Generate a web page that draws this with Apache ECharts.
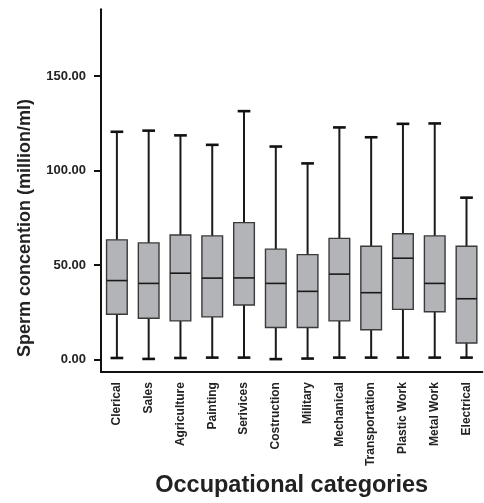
<!DOCTYPE html>
<html>
<head>
<meta charset="utf-8">
<script src="https://cdn.jsdelivr.net/npm/echarts@6/dist/echarts.min.js"></script>
<style>
html,body{margin:0;padding:0;background:#fff;}
#chart{width:484px;height:503px;}
</style>
</head>
<body>
<div id="chart"></div>
<script>
const categories = ['Clerical','Sales','Agriculture','Painting','Serivices','Costruction','Military','Mechanical','Transportation','Plastic Work','Metal Work','Electrical'];
const whiskerLow = [1.0, 0.5, 1.0, 1.2, 1.2, 0.4, 0.7, 1.2, 1.2, 1.2, 1.2, 1.2];
const q1Values   = [24.1, 22.0, 20.6, 22.7, 29.0, 17.1, 17.1, 20.6, 15.9, 26.7, 25.4, 8.9];
const medians    = [41.9, 40.4, 45.8, 43.2, 43.3, 40.4, 36.2, 45.3, 35.5, 53.7, 40.4, 32.3];
const q3Values   = [63.4, 61.8, 66.0, 65.5, 72.5, 58.5, 55.6, 64.2, 60.0, 66.6, 65.5, 60.0];
const whiskerHigh= [120.5, 121.1, 118.6, 113.6, 131.4, 112.7, 103.8, 122.8, 117.6, 124.7, 124.9, 85.7];
const yTickValues = [0, 50, 100, 150];

const FONT = '"Liberation Sans", Arial, Helvetica, sans-serif';
const data = categories.map((c, i) => [i, whiskerLow[i], q1Values[i], medians[i], q3Values[i], whiskerHigh[i]]);

const chart = echarts.init(document.getElementById('chart'));
chart.setOption({
  animation: false,
  backgroundColor: '#fff',
  grid: { left: 101, right: 1.6, top: 9.3, bottom: 128, containLabel: false },
  xAxis: {
    type: 'category',
    data: categories,
    boundaryGap: true,
    axisLine: { onZero: false, lineStyle: { color: '#111', width: 2 } },
    axisTick: { alignWithLabel: true, length: 7, lineStyle: { color: '#111', width: 2 } },
    axisLabel: { rotate: 90, interval: 0, margin: 10, fontFamily: FONT, fontWeight: 'bold', fontSize: 12, color: '#222' },
    name: 'Occupational categories',
    nameLocation: 'middle',
    nameGap: 99,
    nameTextStyle: { fontFamily: FONT, fontWeight: 'bold', fontSize: 23.5, color: '#222' }
  },
  yAxis: {
    type: 'value',
    min: -6.45,
    max: 185.2,
    axisLine: { show: true, onZero: false, lineStyle: { color: '#111', width: 2 } },
    axisTick: { show: true, length: 7, customValues: yTickValues, lineStyle: { color: '#111', width: 2 } },
    axisLabel: { customValues: yTickValues, margin: 15, fontFamily: FONT, fontWeight: 'bold', fontSize: 13, color: '#222',
      formatter: v => Number(v).toFixed(2) },
    splitLine: { show: false }
  },
  graphic: [{
    type: 'text',
    left: 16, top: 99,
    rotation: Math.PI / 2,
    style: { text: 'Sperm concention (million/ml)', font: 'bold 18px ' + FONT, fill: '#222' },
    z: 10
  }],
  series: [{
    type: 'custom',
    data: data,
    encode: { x: 0, y: [1, 2, 3, 4, 5] },
    renderItem: function (params, api) {
      const idx = api.value(0);
      const band = api.size([1, 0])[0];
      const boxW = band * 0.65;
      const capW = band * 0.4;
      const pLow = api.coord([idx, api.value(1)]);
      const pQ1 = api.coord([idx, api.value(2)]);
      const pMed = api.coord([idx, api.value(3)]);
      const pQ3 = api.coord([idx, api.value(4)]);
      const pHigh = api.coord([idx, api.value(5)]);
      const x = pMed[0];
      const lineStyle = { stroke: '#1a1a1a', lineWidth: 2 };
      return {
        type: 'group',
        children: [
          { type: 'line', shape: { x1: x, y1: pHigh[1], x2: x, y2: pQ3[1] }, style: lineStyle },
          { type: 'line', shape: { x1: x, y1: pQ1[1], x2: x, y2: pLow[1] }, style: lineStyle },
          { type: 'line', shape: { x1: x - capW / 2, y1: pHigh[1], x2: x + capW / 2, y2: pHigh[1] }, style: { stroke: '#111', lineWidth: 2.6 } },
          { type: 'line', shape: { x1: x - capW / 2, y1: pLow[1], x2: x + capW / 2, y2: pLow[1] }, style: { stroke: '#111', lineWidth: 2.6 } },
          { type: 'rect', shape: { x: x - boxW / 2, y: pQ3[1], width: boxW, height: pQ1[1] - pQ3[1] },
            style: { fill: '#b3b4b7', stroke: '#3a3a3a', lineWidth: 1.4 } },
          { type: 'line', shape: { x1: x - boxW / 2, y1: pMed[1], x2: x + boxW / 2, y2: pMed[1] }, style: { stroke: '#1a1a1a', lineWidth: 1.6 } }
        ]
      };
    }
  }]
});
</script>
</body>
</html>
